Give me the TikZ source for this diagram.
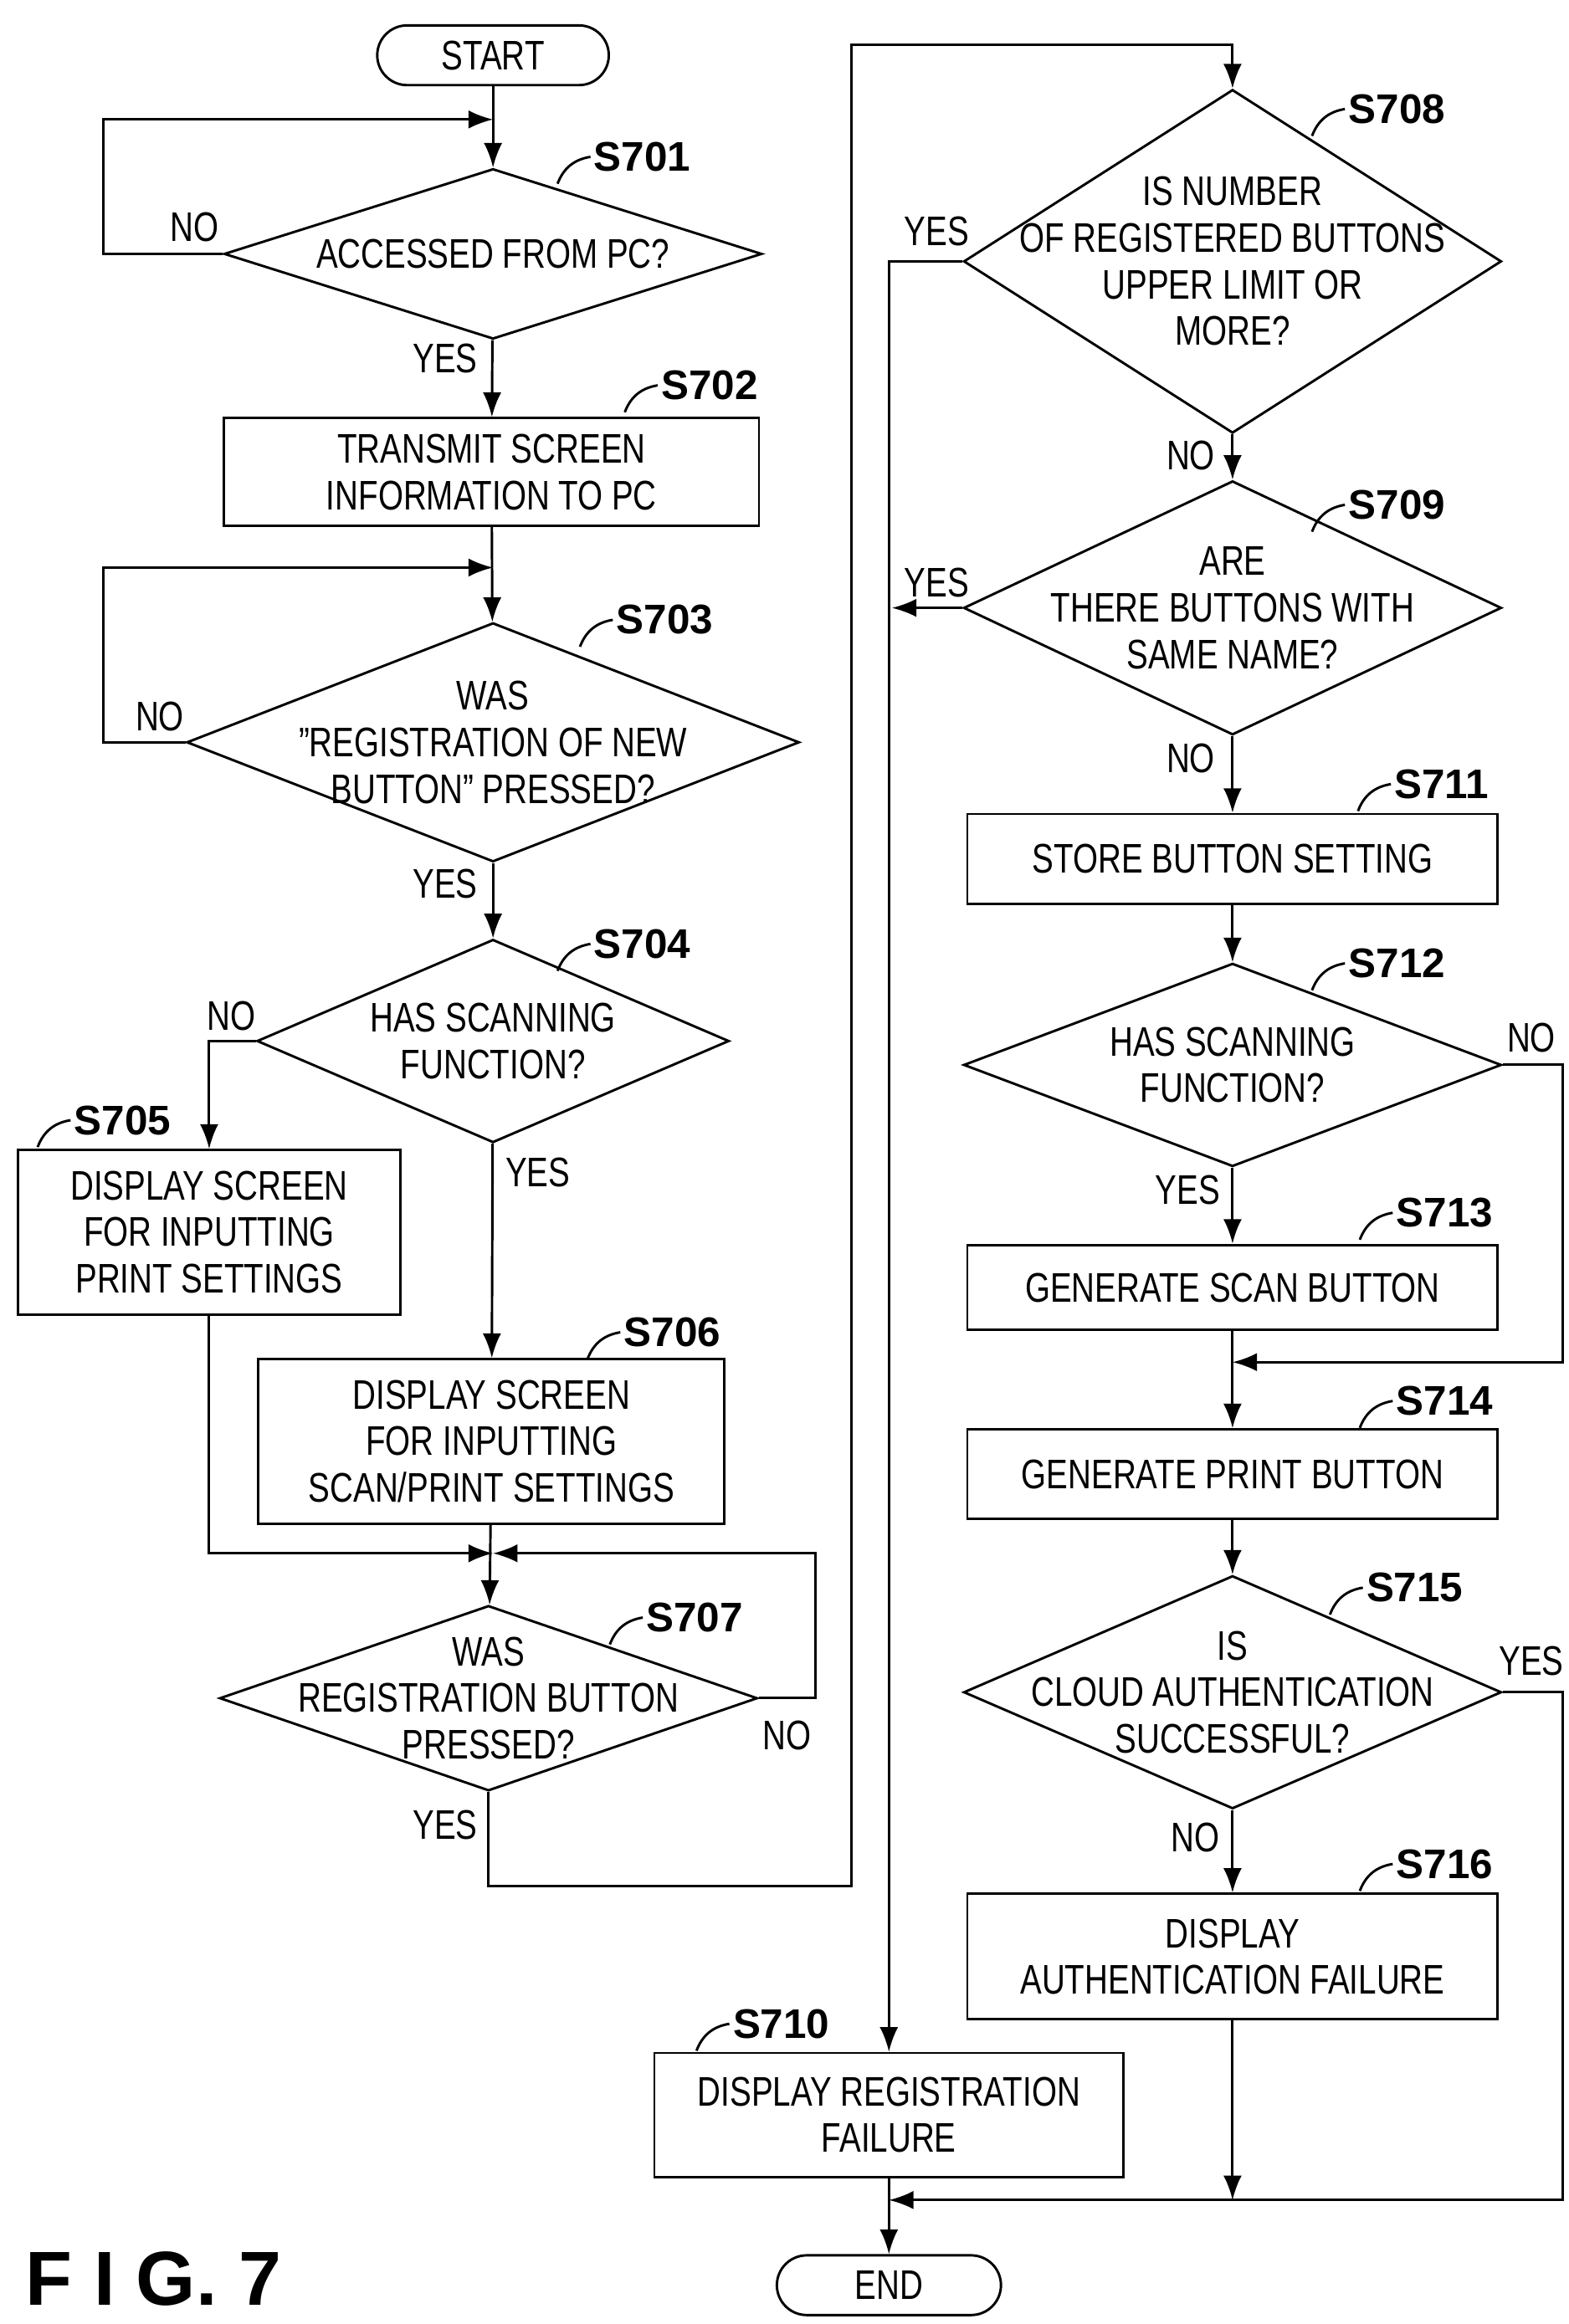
\documentclass[tikz,border=0pt]{standalone}
\usepackage{fontspec}
\setsansfont{Liberation Sans}[FakeStretch=0.78]
\newfontfamily\lblfont{Liberation Sans}
\usetikzlibrary{shapes.geometric,arrows.meta}
\newcommand{\pxs}{0.01714cm}
\begin{document}
\begin{tikzpicture}[x=0.01714cm,y=-0.01714cm,
    txt/.style={font=\sffamily\fontsize{13.5}{15.2}\selectfont,align=center},
    box/.style={draw,thick,txt,inner sep=0pt},
    dec/.style={draw,thick,diamond,inner sep=0pt},
    term/.style={draw,thick,rounded corners=20*\pxs,txt,minimum height=40*\pxs},
    steplbl/.style={font=\lblfont\bfseries\fontsize{13.5}{16}\selectfont,inner sep=1pt},
    yn/.style={txt,inner sep=1pt},
    lead/.style={thick},
    arr/.style={thick,-{Latex[length=8pt,width=6pt]}},
  ]
  \useasboundingbox (0,0) rectangle (1050,1556);

  % left column
  \node[term,minimum width=155*\pxs] (start) at (330,37) {START};
  \node[dec,minimum width=360*\pxs,minimum height=114*\pxs,
    label={[txt]center:ACCESSED FROM PC?}] (s701) at (330,170) {};
  \node[box,minimum width=358*\pxs,minimum height=72*\pxs] (s702) at (329,316)
    {TRANSMIT SCREEN\\INFORMATION TO PC};
  \node[dec,minimum width=410*\pxs,minimum height=160*\pxs,
    label={[txt]center:WAS\\\symbol{34}REGISTRATION OF NEW\\BUTTON\symbol{34} PRESSED?}] (s703) at (330,497) {};
  \node[dec,minimum width=316*\pxs,minimum height=136*\pxs,
    label={[txt]center:HAS SCANNING\\FUNCTION?}] (s704) at (330,697) {};
  \node[box,minimum width=256*\pxs,minimum height=110*\pxs] (s705) at (140,825)
    {DISPLAY SCREEN\\FOR INPUTTING\\PRINT SETTINGS};
  \node[box,minimum width=312*\pxs,minimum height=110*\pxs] (s706) at (329,965)
    {DISPLAY SCREEN\\FOR INPUTTING\\SCAN/PRINT SETTINGS};
  \node[dec,minimum width=360*\pxs,minimum height=124*\pxs,
    label={[txt]center:WAS\\REGISTRATION BUTTON\\PRESSED?}] (s707) at (327,1137) {};

  % right column
  \node[dec,minimum width=360*\pxs,minimum height=230*\pxs,
    label={[txt]center:IS NUMBER\\OF REGISTERED BUTTONS\\UPPER LIMIT OR\\MORE?}] (s708) at (825,175) {};
  \node[dec,minimum width=360*\pxs,minimum height=170*\pxs,
    label={[txt]center:ARE\\THERE BUTTONS WITH\\SAME NAME?}] (s709) at (825,407) {};
  \node[box,minimum width=355*\pxs,minimum height=60*\pxs] (s711) at (825,575) {STORE BUTTON SETTING};
  \node[dec,minimum width=360*\pxs,minimum height=136*\pxs,
    label={[txt]center:HAS SCANNING\\FUNCTION?}] (s712) at (825,713) {};
  \node[box,minimum width=355*\pxs,minimum height=57*\pxs] (s713) at (825,862) {GENERATE SCAN BUTTON};
  \node[box,minimum width=355*\pxs,minimum height=60*\pxs] (s714) at (825,987) {GENERATE PRINT BUTTON};
  \node[dec,minimum width=360*\pxs,minimum height=156*\pxs,
    label={[txt]center:IS\\CLOUD AUTHENTICATION\\SUCCESSFUL?}] (s715) at (825,1133) {};
  \node[box,minimum width=355*\pxs,minimum height=84*\pxs] (s716) at (825,1310)
    {DISPLAY\\AUTHENTICATION FAILURE};
  \node[box,minimum width=314*\pxs,minimum height=83*\pxs] (s710) at (595,1416)
    {DISPLAY REGISTRATION\\FAILURE};
  \node[term,minimum width=150*\pxs] (end) at (595,1530) {END};

  % merge points
  \coordinate (m701) at (330,80);
  \coordinate (m703) at (330,380);
  \coordinate (m707) at (330,1040);
  \coordinate (m714) at (825,912);
  \coordinate (m710) at (595,1473);

  % connectors
  \draw[arr] (start) -- (s701);
  \draw[arr] (s701.west) -- ++(-80,0) |- (m701);
  \draw[arr] (s701) -- (s702);
  \draw[arr] (s702) -- (s703);
  \draw[arr] (s703.west) -- ++(-55,0) |- (m703);
  \draw[arr] (s703) -- (s704);
  \draw[arr] (s704.west) -| (s705.north);
  \draw[arr] (s704) -- (s706);
  \draw[arr] (s705.south) |- (m707);
  \draw[arr] (s706) -- (s707);
  \draw[arr] (s707.east) -- ++(38,0) |- (m707);
  \draw[arr] (s707.south) -- ++(0,63) -| (570,30) -| (s708.north);
  \draw[arr] (s708.west) -| (s710.north);
  \draw[arr] (s708) -- (s709);
  \draw[arr] (s709.west) -- (597,407);
  \draw[arr] (s709) -- (s711);
  \draw[arr] (s711) -- (s712);
  \draw[arr] (s712) -- (s713);
  \draw[arr] (s712.east) -- ++(40,0) |- (m714);
  \draw[arr] (s713) -- (s714);
  \draw[arr] (s714) -- (s715);
  \draw[arr] (s715) -- (s716);
  \draw[arr] (s715.east) -- ++(40,0) |- (m710);
  \draw[arr] (s716.south) -- (825,1473);
  \draw[arr] (s710) -- (end);

  % yes / no
  \node[yn] at (130,152) {NO};
  \node[yn] at (298,240) {YES};
  \node[yn] at (107,480) {NO};
  \node[yn] at (298,592) {YES};
  \node[yn] at (155,680) {NO};
  \node[yn] at (360,785) {YES};
  \node[yn] at (527,1162) {NO};
  \node[yn] at (298,1222) {YES};
  \node[yn] at (627,155) {YES};
  \node[yn] at (797,305) {NO};
  \node[yn] at (627,390) {YES};
  \node[yn] at (797,508) {NO};
  \node[yn] at (1025,695) {NO};
  \node[yn] at (795,797) {YES};
  \node[yn] at (1025,1112) {YES};
  \node[yn] at (800,1230) {NO};

  % step labels
  \node[steplbl] (l701) at (430,105) {S701};
  \node[steplbl] (l702) at (475,258) {S702};
  \node[steplbl] (l703) at (445,415) {S703};
  \node[steplbl] (l704) at (430,632) {S704};
  \node[steplbl] (l705) at (82,750) {S705};
  \node[steplbl] (l706) at (450,892) {S706};
  \node[steplbl] (l707) at (465,1083) {S707};
  \node[steplbl] (l708) at (935,73) {S708};
  \node[steplbl] (l709) at (935,338) {S709};
  \node[steplbl] (l711) at (965,525) {S711};
  \node[steplbl] (l712) at (935,645) {S712};
  \node[steplbl] (l713) at (967,812) {S713};
  \node[steplbl] (l714) at (967,938) {S714};
  \node[steplbl] (l715) at (947,1063) {S715};
  \node[steplbl] (l716) at (967,1248) {S716};
  \node[steplbl] (l710) at (523,1355) {S710};
  \foreach \n in {701,702,703,704,705,706,707,708,709,711,712,713,714,715,716,710}
    \draw[lead] (l\n.west) to[bend right=30] ++(-22,18);

  \node[font=\lblfont\bfseries\fontsize{25}{28}\selectfont,anchor=west] (fig) at (10,1526) {F I G.\ 7};
\end{tikzpicture}
\end{document}
